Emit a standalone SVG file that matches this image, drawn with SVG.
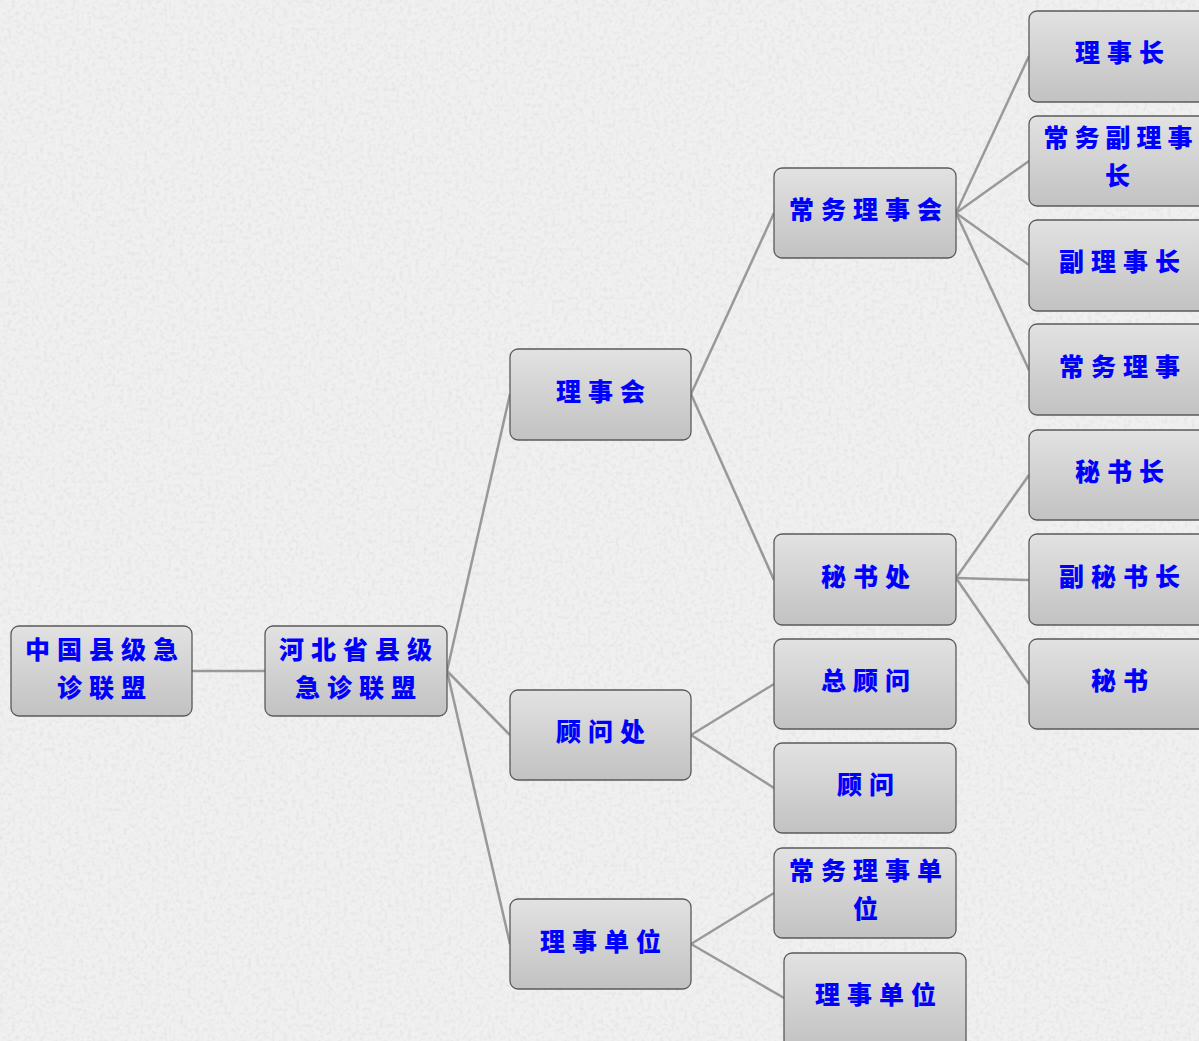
<svg xmlns="http://www.w3.org/2000/svg" width="1199" height="1041" viewBox="0 0 1199 1041">
<defs>
<linearGradient id="g" x1="0" y1="0" x2="0" y2="1">
<stop offset="0" stop-color="#e2e2e2"/>
<stop offset="1" stop-color="#c2c2c2"/>
</linearGradient>
<filter id="noise" x="0" y="0" width="100%" height="100%">
<feTurbulence type="fractalNoise" baseFrequency="0.25" numOctaves="3" seed="4"/>
<feColorMatrix type="matrix" values="0 0 0 0 0.72  0 0 0 0 0.72  0 0 0 0 0.72  2.2 0 0 0 -0.95"/>
</filter>
<style>
.n rect{fill:url(#g);stroke:#5a5a5a;stroke-width:1.3}
.n text{font-family:"Noto Sans CJK SC","Noto Sans CJK TC",sans-serif;font-weight:900;font-size:25px;fill:#0000ff;text-anchor:middle;letter-spacing:7px}
.c line{stroke:#999999;stroke-width:2.5}
</style>
</defs>
<rect width="1199" height="1041" fill="#f0f0f0"/>
<rect width="1199" height="1041" filter="url(#noise)" opacity="0.6"/>
<g class="c" id="connectors">
<line x1="192" y1="671" x2="265" y2="671"/>
<line x1="447" y1="671" x2="510" y2="394"/>
<line x1="447" y1="671" x2="510" y2="735"/>
<line x1="447" y1="671" x2="510" y2="944"/>
<line x1="691" y1="394" x2="774" y2="213"/>
<line x1="691" y1="394" x2="774" y2="580"/>
<line x1="956" y1="213" x2="1029" y2="56"/>
<line x1="956" y1="213" x2="1029" y2="161"/>
<line x1="956" y1="213" x2="1029" y2="265"/>
<line x1="956" y1="213" x2="1029" y2="370"/>
<line x1="956" y1="578" x2="1029" y2="475"/>
<line x1="956" y1="578" x2="1029" y2="580"/>
<line x1="956" y1="578" x2="1029" y2="684"/>
<line x1="691" y1="735" x2="774" y2="684"/>
<line x1="691" y1="735" x2="774" y2="788"/>
<line x1="691" y1="944" x2="774" y2="893"/>
<line x1="691" y1="944" x2="784" y2="998"/>
</g>
<g class="n" id="n-zhongguo"><rect x="11" y="626" width="181" height="90" rx="8"/><text x="105" y="659">中国县级急</text><text x="105" y="697">诊联盟</text></g>
<g class="n" id="n-hebei"><rect x="265" y="626" width="182" height="90" rx="8"/><text x="359" y="659">河北省县级</text><text x="359" y="697">急诊联盟</text></g>
<g class="n" id="n-lishihui"><rect x="510" y="349" width="181" height="91" rx="8"/><text x="604" y="401">理事会</text></g>
<g class="n" id="n-guwenchu"><rect x="510" y="690" width="181" height="90" rx="8"/><text x="604" y="741">顾问处</text></g>
<g class="n" id="n-lishidanwei"><rect x="510" y="899" width="181" height="90" rx="8"/><text x="604" y="951">理事单位</text></g>
<g class="n" id="n-changwulishihui"><rect x="774" y="168" width="182" height="90" rx="8"/><text x="869" y="219">常务理事会</text></g>
<g class="n" id="n-mishuchu"><rect x="774" y="534" width="182" height="91" rx="8"/><text x="869" y="586">秘书处</text></g>
<g class="n" id="n-zongguwen"><rect x="774" y="639" width="182" height="90" rx="8"/><text x="869" y="690">总顾问</text></g>
<g class="n" id="n-guwen"><rect x="774" y="743" width="182" height="90" rx="8"/><text x="869" y="794">顾问</text></g>
<g class="n" id="n-changwulishidanwei"><rect x="774" y="848" width="182" height="90" rx="8"/><text x="869" y="880">常务理事单</text><text x="869" y="918">位</text></g>
<g class="n" id="n-lishidanwei2"><rect x="784" y="953" width="182" height="95" rx="8"/><text x="879" y="1004">理事单位</text></g>
<g class="n" id="n-lishizhang"><rect x="1029" y="11" width="182" height="91" rx="8"/><text x="1123" y="62">理事长</text></g>
<g class="n" id="n-changwufulishizhang"><rect x="1029" y="116" width="182" height="90" rx="8"/><text x="1121" y="147" style="letter-spacing:6px">常务副理事</text><text x="1121" y="185">长</text></g>
<g class="n" id="n-fulishizhang"><rect x="1029" y="220" width="182" height="91" rx="8"/><text x="1123" y="271">副理事长</text></g>
<g class="n" id="n-changwulishi"><rect x="1029" y="324" width="182" height="91" rx="8"/><text x="1123" y="376">常务理事</text></g>
<g class="n" id="n-mishuzhang"><rect x="1029" y="430" width="182" height="90" rx="8"/><text x="1123" y="481">秘书长</text></g>
<g class="n" id="n-fumishuzhang"><rect x="1029" y="534" width="182" height="91" rx="8"/><text x="1123" y="586">副秘书长</text></g>
<g class="n" id="n-mishu"><rect x="1029" y="639" width="182" height="90" rx="8"/><text x="1123" y="690">秘书</text></g>
</svg>
